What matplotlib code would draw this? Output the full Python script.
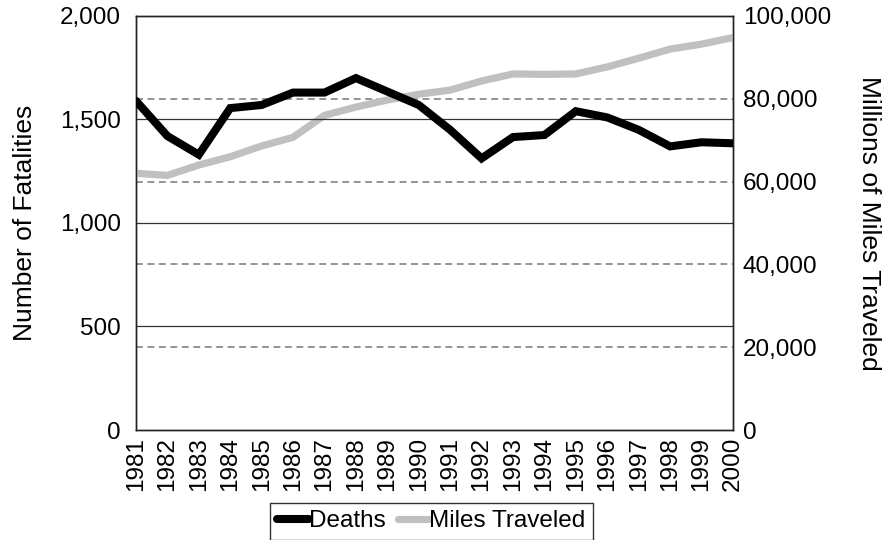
import matplotlib.pyplot as plt
from matplotlib.ticker import FuncFormatter

plt.rcParams['font.family'] = ['Liberation Sans', 'DejaVu Sans']

# Traffic fatalities and miles traveled, 1981-2000
years = [1981, 1982, 1983, 1984, 1985, 1986, 1987, 1988, 1989, 1990,
         1991, 1992, 1993, 1994, 1995, 1996, 1997, 1998, 1999, 2000]
deaths = [1590, 1420, 1330, 1555, 1570, 1630, 1630, 1700, 1635, 1570,
          1450, 1312, 1415, 1425, 1540, 1510, 1450, 1370, 1390, 1385]
miles = [62000, 61500, 64000, 66000, 68600, 70700, 76000, 78000, 79700, 81100,
         82100, 84300, 86000, 85900, 86000, 87700, 89800, 92000, 93200, 94800]

FS = 17.5

fig = plt.figure(figsize=(8.91, 5.4), dpi=100)
ax = fig.add_axes([0.1526, 0.2037, 0.67, 0.7667])
ax2 = ax.twinx()

# deaths line should sit above the miles line
ax.set_zorder(ax2.get_zorder() + 1)
ax.patch.set_visible(False)

x = list(range(len(years)))
l1, = ax.plot(x, deaths, color='black', lw=5.8, solid_capstyle='round',
              solid_joinstyle='miter', label='Deaths', zorder=3)
l2, = ax2.plot(x, miles, color='#c0c0c0', lw=5.2, solid_capstyle='round',
               solid_joinstyle='miter', label='Miles Traveled', zorder=3)

ax.set_xlim(0, len(years) - 1)
ax.set_ylim(0, 2000)
ax2.set_ylim(0, 100000)

ax.set_yticks([0, 500, 1000, 1500, 2000])
ax2.set_yticks([0, 20000, 40000, 60000, 80000, 100000])
comma = FuncFormatter(lambda v, p: f'{int(v):,}')
ax.yaxis.set_major_formatter(comma)
ax2.yaxis.set_major_formatter(comma)

# solid grid from the left scale, dashed grid from the right scale
for v in [500, 1000, 1500]:
    ax.axhline(v, color='#333333', lw=0.9, zorder=1)
for v in [20000, 40000, 60000, 80000]:
    ax2.axhline(v, color='#777777', lw=1.1, ls=(0, (4.5, 3)), zorder=1)

ax.set_xticks(x)
ax.set_xticklabels([str(y) for y in years], rotation=90)

ax.tick_params(axis='y', length=0, pad=11, labelsize=FS)
ax.tick_params(axis='x', length=0, pad=5, labelsize=FS)
ax2.tick_params(axis='y', length=0, pad=7, labelsize=FS)

for a in (ax, ax2):
    for s in a.spines.values():
        s.set_color('#222222')
        s.set_linewidth(1.0)

ax.set_ylabel('Number of Fatalities', fontsize=19, labelpad=16)
ax2.set_ylabel('Millions of Miles Traveled', fontsize=19, rotation=-90,
               labelpad=36)

leg = fig.legend(handles=[l1, l2], loc='upper center',
                 bbox_to_anchor=(0.484, 0.0685), ncol=2, fontsize=FS,
                 frameon=True, fancybox=False, handlelength=1.3,
                 handletextpad=0.0, columnspacing=0.5, borderpad=0.3,
                 borderaxespad=0)
leg.get_frame().set_edgecolor('black')
leg.get_frame().set_linewidth(1.0)
for h in leg.get_lines():
    h.set_solid_capstyle('round')

fig.savefig('out.png', dpi=100)
